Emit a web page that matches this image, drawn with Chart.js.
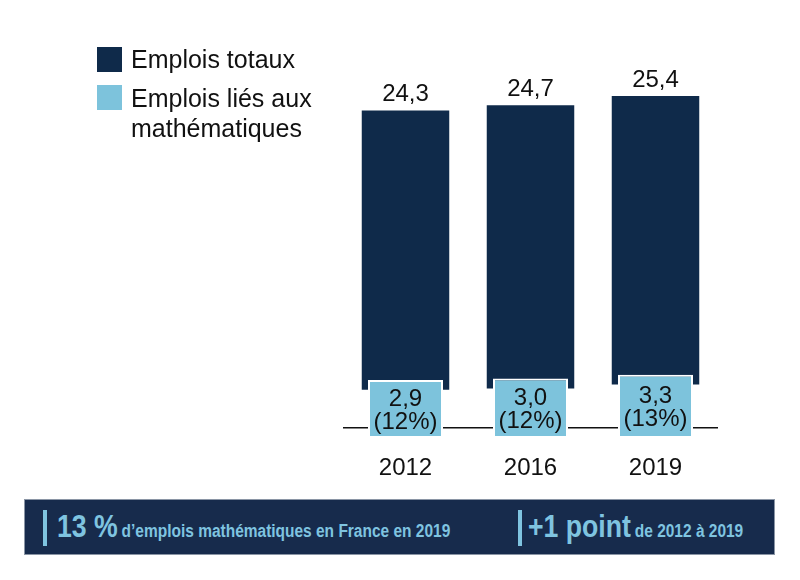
<!DOCTYPE html>
<html>
<head>
<meta charset="utf-8">
<script src="https://cdn.jsdelivr.net/npm/chart.js@4"></script>
<style>
  body { margin: 0; background: #fff; font-family: "Liberation Sans", Arial, sans-serif; }
  #wrap { position: relative; width: 800px; height: 580px; overflow: hidden; }
  #chart { position: absolute; left: 0; top: 0; }
  .leg { position: absolute; left: 97px; font-size: 25px; color: #111; line-height: 30px; }
  .leg .sq { position: absolute; left: 0; width: 25px; height: 25px; }
  .leg span.t { position: absolute; left: 34px; white-space: nowrap; }
  #banner { position: absolute; left: 24px; top: 499px; width: 751px; height: 56px; background: #172b4c;
            border: 1px solid #8a95a5; box-sizing: border-box; color: #7fc4e0; font-weight: bold; }
  #banner .bar { position: absolute; top: 10px; width: 4px; height: 36px; background: #7fc4e0; }
  #banner .txt { position: absolute; top: 0; height: 54px; line-height: 54px; white-space: nowrap;
                 transform: scaleX(0.86); transform-origin: 0 0; }
  .big { font-size: 31px; }
  .small { font-size: 18px; }
</style>
</head>
<body>
<div id="wrap">
  <canvas id="chart" width="800" height="580"></canvas>
  <div class="leg" style="top:47px;">
    <div class="sq" style="background:#0f2a4a;"></div>
    <span class="t" style="top:-3px;">Emplois totaux</span>
  </div>
  <div class="leg" style="top:85px;">
    <div class="sq" style="background:#7dc3dc;"></div>
    <span class="t" style="top:-2px;">Emplois liés aux<br>mathématiques</span>
  </div>
  <div id="banner">
    <div class="bar" style="left:18px;"></div>
    <div class="txt" style="left:32px;"><span class="big">13 %</span> <span class="small">d’emplois mathématiques en France en 2019</span></div>
    <div class="bar" style="left:493px;"></div>
    <div class="txt" style="left:503px;"><span class="big">+1 point</span> <span class="small">de 2012 à 2019</span></div>
  </div>
</div>
<script>
  const years = ['2012', '2016', '2019'];
  const totalJobs = [24.3, 24.7, 25.4];   // millions
  const mathJobs = [2.9, 3.0, 3.3];       // millions
  const mathShare = [12, 12, 13];         // %

  const DARK = '#0f2a4a';
  const LIGHT = '#7dc3dc';
  const Y_MIN = -0.8;
  const BOX_PAD = 0.75;

  function fmt(v) {
    return v.toFixed(1).replace('.', ',');
  }

  const labelPlugin = {
    id: 'barLabels',
    afterDatasetsDraw(chart) {
      const ctx = chart.ctx;
      ctx.save();
      ctx.fillStyle = '#111';
      ctx.font = '24px "Liberation Sans", Arial, sans-serif';
      ctx.textAlign = 'center';

      // totals above the dark bars
      ctx.textBaseline = 'alphabetic';
      chart.getDatasetMeta(1).data.forEach(function(bar, i) {
        ctx.fillText(fmt(totalJobs[i]), bar.x, bar.y - 9);
      });

      // math jobs inside the light boxes
      ctx.textBaseline = 'middle';
      chart.getDatasetMeta(0).data.forEach(function(bar, i) {
        const mid = (bar.y + bar.base) / 2;
        ctx.fillText(fmt(mathJobs[i]), bar.x, mid - 10);
        ctx.fillText('(' + mathShare[i] + '%)', bar.x, mid + 13);
      });
      ctx.restore();
    }
  };

  const data = {
    labels: years,
    datasets: [{
      label: 'Emplois liés aux mathématiques',
      data: mathJobs.map(function(v) { return [Y_MIN, v + BOX_PAD]; }),
      backgroundColor: LIGHT,
      borderColor: '#fff',
      borderWidth: 2,
      borderSkipped: false,
      barPercentage: 0.6,
      categoryPercentage: 1,
      order: 0
    }, {
      label: 'Emplois totaux',
      data: totalJobs.map(function(t, i) { return [mathJobs[i], t]; }),
      backgroundColor: DARK,
      borderWidth: 0,
      barPercentage: 0.7,
      categoryPercentage: 1,
      order: 1
    }]
  };

  const config = {
    type: 'bar',
    data: data,
    options: {
      responsive: false,
      animation: false,
      layout: { padding: { left: 343, right: 82, top: 36, bottom: 82 } },
      plugins: {
        legend: { display: false },
        tooltip: { enabled: false }
      },
      scales: {
        x: {
          stacked: true,
          grid: { display: false },
          border: { display: false },
          ticks: {
            color: '#111',
            padding: 8,
            font: { family: '"Liberation Sans", Arial, sans-serif', size: 24 }
          },
          afterFit: function(scale) { scale.height = 60; }
        },
        y: {
          min: Y_MIN,
          max: 30,
          display: true,
          border: { display: false },
          ticks: { display: false },
          afterBuildTicks: function(scale) { scale.ticks = [{ value: 0 }]; },
          grid: {
            drawTicks: false,
            color: '#111',
            lineWidth: 1.5
          }
        }
      }
    },
    plugins: [labelPlugin]
  };

  window.onload = function() {
    const ctx = document.getElementById('chart').getContext('2d');
    new Chart(ctx, config);
  };
</script>
</body>
</html>
